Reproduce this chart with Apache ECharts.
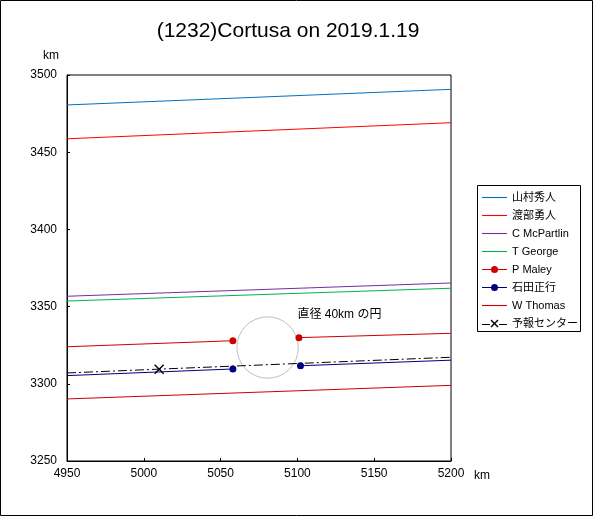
<!DOCTYPE html>
<html><head><meta charset="utf-8">
<script src="https://cdn.jsdelivr.net/npm/echarts@6/dist/echarts.min.js"></script>
<style>html,body{margin:0;padding:0;background:#fff}#c{width:594px;height:517px}</style>
</head><body><div id="c"></div>
<script>
const titleText = '(1232)Cortusa on 2019.1.19';
const xTicks = [4950, 5000, 5050, 5100, 5150, 5200];
const yTicks = [3250, 3300, 3350, 3400, 3450, 3500];
const lineX = [4950, 5200];
const yamamuraY = [3480.6, 3490.7];
const watanabeY = [3458.7, 3469.1];
const mcpartlinY = [3356.7, 3365.3];
const georgeY = [3353.6, 3361.9];
const maleyX = [4950, 5058, null, 5101, 5200];
const maleyY = [3324.0, 3327.9, null, 3329.9, 3332.7];
const ishidaX = [4950, 5058, null, 5102, 5200];
const ishidaY = [3305.3, 3309.6, null, 3311.7, 3315.3];
const thomasY = [3290.2, 3299.0];
const yosoX = [4950, 5010, 5200];
const yosoY = [3307.0, 3309.5, 3317.2];
const markedMaley = [false, true, false, true, false];
const markedYoso = [false, true, false];
const circleCenter = [5080.6, 3323.5];
const circleDiameter = 40;
const noteText = '直径 40km の円';
const notePos = [5100, 3345];
const names = ['山村秀人','渡部勇人','C McPartlin','T George','P Maley','石田正行','W Thomas','予報センター'];
const colors = ['#0070C0','#FF0000','#7030A0','#00B050','#D00000','#000080','#D00000','#000000'];

const FONT = "'Liberation Sans', 'Noto Sans CJK JP', sans-serif";
const xMark = 'path://M0,1L1,0L5,4L9,0L10,1L6,5L10,9L9,10L5,6L1,10L0,9L4,5Z';
const iconLine = 'path://M0,0.5L25,0.5L25,1.6L0,1.6Z';
const iconDot = 'path://M0,5.5L9.5,5.5L9.5,6.5L0,6.5Z M15.5,5.5L25,5.5L25,6.5L15.5,6.5Z M9,6a3.5,3.5 0 1,1 7,0a3.5,3.5 0 1,1 -7,0Z';
const iconCross = 'path://M0,5.5L8,5.5L8,6.5L0,6.5Z M17,5.5L25,5.5L25,6.5L17,6.5Z M8.5,2L9.5,1L12.5,4L15.5,1L16.5,2L13.5,5L16.5,8L15.5,9L12.5,6L9.5,9L8.5,8L11.5,5Z';

function pairs(xs, ys){ return xs.map((x,i)=>[x, ys[i]]); }
function broken(xs, ys, marked){
  return xs.map((x,i)=> x === null ? '-' : (marked[i] ? {value:[x, ys[i]]} : {value:[x, ys[i]], symbol:'none'}));
}
function plain(i, ys){
  const color = colors[i];
  return {name:names[i], type:'line', data:pairs(lineX, ys), symbol:'none', color,
    itemStyle:{color}, lineStyle:{color, width:1}, z:3};
}
const legendIcons = [iconLine, iconLine, iconLine, iconLine, iconDot, iconDot, iconLine, iconCross];

const chart = echarts.init(document.getElementById('c'), null, {renderer:'canvas'});
chart.setOption({
  animation:false,
  backgroundColor:'#fff',
  textStyle:{fontFamily:FONT},
  grid:{left:67, top:75, width:384, height:386, show:true, borderColor:'#000', borderWidth:1, containLabel:false},
  xAxis:{type:'value', min:4950, max:5200, interval:50,
    axisLine:{show:true, lineStyle:{color:'#000', width:1}},
    axisTick:{show:true, inside:true, length:3, lineStyle:{color:'#000'}},
    splitLine:{show:false},
    axisLabel:{color:'#000', fontSize:12, margin:7, fontFamily:FONT, formatter:v=>String(v)}},
  yAxis:{type:'value', min:3250, max:3500, interval:50,
    axisLine:{show:true, lineStyle:{color:'#000', width:1}},
    axisTick:{show:true, inside:true, length:3, lineStyle:{color:'#000'}},
    splitLine:{show:false},
    axisLabel:{color:'#000', fontSize:12, margin:10, fontFamily:FONT, formatter:v=>String(v)}},
  legend:{show:true, orient:'vertical', left:477, top:186.5, padding:5, itemWidth:25, itemHeight:12, itemGap:6,
    data:names.map((n,i)=>({name:n, icon:legendIcons[i], itemStyle:{color:colors[i], borderWidth:0, borderColor:colors[i]}})),
    selectedMode:false,
    textStyle:{color:'#000', fontSize:11, lineHeight:12, fontFamily:FONT}},
  graphic:[
    {type:'rect', shape:{x:0.5, y:0.5, width:592, height:515}, style:{fill:'none', stroke:'#000', lineWidth:1}, silent:true},
    {type:'rect', shape:{x:477.5, y:185.5, width:103, height:146}, style:{fill:'none', stroke:'#000', lineWidth:1}, silent:true},
    {type:'text', x:288, y:31, style:{text:titleText, font:'21px '+FONT, fill:'#000', textAlign:'center', textVerticalAlign:'middle'}},
    {type:'text', x:51, y:56, style:{text:'km', font:'12px '+FONT, fill:'#000', textAlign:'center', textVerticalAlign:'middle'}},
    {type:'text', x:482, y:476, style:{text:'km', font:'12px '+FONT, fill:'#000', textAlign:'center', textVerticalAlign:'middle'}}
  ],
  series:[
    plain(0, yamamuraY),
    plain(1, watanabeY),
    plain(2, mcpartlinY),
    plain(3, georgeY),
    {name:names[4], type:'line', data:broken(maleyX, maleyY, markedMaley), connectNulls:false,
      symbol:'circle', symbolSize:7, showSymbol:true, color:colors[4],
      itemStyle:{color:colors[4]}, lineStyle:{color:colors[4], width:1}, z:4},
    {name:names[5], type:'line', data:broken(ishidaX, ishidaY, markedMaley), connectNulls:false,
      symbol:'circle', symbolSize:7, showSymbol:true, color:colors[5],
      itemStyle:{color:colors[5]}, lineStyle:{color:colors[5], width:1}, z:4},
    plain(6, thomasY),
    {name:names[7], type:'line', data:broken(yosoX, yosoY, markedYoso),
      symbol:xMark, symbolSize:10, showSymbol:true, color:colors[7],
      itemStyle:{color:colors[7]}, lineStyle:{color:colors[7], width:1, type:[9,3,2,3]}, z:5},
    {name:'circle', type:'custom', data:[[circleCenter[0], circleCenter[1], circleDiameter]], z:2,
      renderItem:function(params, api){
        const c = api.coord([api.value(0), api.value(1)]);
        const r = api.size([api.value(2), 0])[0] / 2;
        return {type:'circle', shape:{cx:c[0], cy:c[1], r:r}, style:{fill:'none', stroke:'#BFBFBF', lineWidth:1}};
      }},
    {name:'note', type:'custom', data:[[notePos[0], notePos[1]]], z:2,
      renderItem:function(params, api){
        const p = api.coord([api.value(0), api.value(1)]);
        return {type:'text', x:p[0], y:p[1], style:{text:noteText, font:'12px '+FONT, fill:'#000', textAlign:'left', textVerticalAlign:'middle'}};
      }}
  ]
});
</script></body></html>
